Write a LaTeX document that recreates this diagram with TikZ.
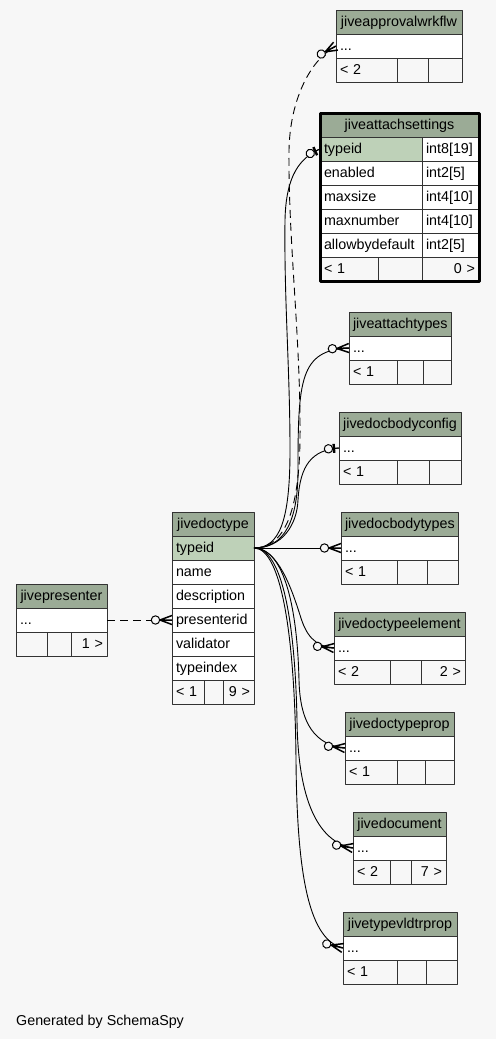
\documentclass[tikz,border=0pt]{standalone}
\usepackage{fontspec}
\setmainfont{Liberation Sans}
\usetikzlibrary{decorations.markings}
\definecolor{bgc}{HTML}{F7F7F7}
\definecolor{hdrc}{HTML}{9BAB96}
\definecolor{pkc}{HTML}{BED1B8}
\definecolor{linec}{HTML}{333333}
\newcommand\tblfont{\fontsize{14.3}{17}\selectfont}

\begin{document}
\begin{tikzpicture}[x=1pt, y=-1pt, line join=round,
    cell/.style={draw=linec, line width=1pt, anchor=north west, inner xsep=4pt, inner ysep=0pt, outer sep=0pt,
      minimum height=24pt, text height=11.5pt, text depth=2.5pt, font=\tblfont, align=left},
    hdr/.style={cell, fill=hdrc, align=center},
    col/.style={cell, fill=white},
    pkcol/.style={cell, fill=pkc},
    ftr/.style={cell, fill=bgc},
    ftrr/.style={ftr, align=right},
    rel/.style={line width=0.9pt},
    implied/.style={rel, dash pattern=on 8pt off 5pt},
    zeromany/.style={postaction={decorate, decoration={markings, mark=at position 0.9995 with {
        \draw[solid, line width=1.5pt] (-12pt,0) -- (0,4.5pt) (-12pt,0) -- (0,0) (-12pt,0) -- (0,-4.5pt);
        \draw[solid, line width=1pt, fill=bgc] (-16.5pt,0) circle (4.2pt);}}}},
    zeroone/.style={postaction={decorate, decoration={markings, mark=at position 0.9995 with {
        \draw[solid, line width=1pt] (-12pt,0) -- (0,0);
        \draw[solid, line width=2.4pt] (-5pt,-4.5pt) -- (-5pt,4.5pt);
        \draw[solid, line width=1pt, fill=bgc] (-10.5pt,0) circle (4.2pt);}}}}]

  \path[use as bounding box, fill=bgc] (0,0) rectangle (496,1039);

  % tables shown collapsed
  \foreach \id/\tname/\x/\y/\w/\da/\db/\fl/\fr in {
      aw/jiveapprovalwrkflw/336/10/126/397/428/{< 2}/{},
      at/jiveattachtypes/349/312/102/397/423/{< 1}/{},
      dbc/jivedocbodyconfig/339/412/122/397/429/{< 1}/{},
      dbt/jivedocbodytypes/341/512/117/397/427/{< 1}/{},
      dte/jivedoctypeelement/334/612/131/390/421/{< 2}/{2 >},
      dtp/jivedoctypeprop/345/712/109/397/425/{< 1}/{},
      doc/jivedocument/353/812/93/390/411/{< 2}/{7 >},
      tvp/jivetypevldtrprop/343/912/114/397/426/{< 1}/{},
      pres/jivepresenter/16/584/91/47/71/{}/{1 >}} {
    \pgfmathsetmacro\wfull{\w-8}
    \pgfmathsetmacro\wleft{\da-\x-8}
    \pgfmathsetmacro\wmid{\db-\da-8}
    \pgfmathsetmacro\wright{\x+\w-\db-8}
    \node[hdr, text width=\wfull pt] (\id-hdr) at (\x,\y) {\tname};
    \node[col, text width=\wfull pt] (\id-row) at (\id-hdr.south west) {...};
    \node[ftr, text width=\wleft pt] (\id-f1) at (\id-row.south west) {\fl};
    \node[ftr, text width=\wmid pt] (\id-f2) at (\id-f1.north east) {};
    \node[ftrr, text width=\wright pt] (\id-f3) at (\id-f2.north east) {\fr};
  }

  % jivedoctype
  \node[hdr, text width=74pt] (dt-hdr) at (172,512) {jivedoctype};
  \node[pkcol, text width=74pt] (dt-typeid) at (dt-hdr.south west) {typeid};
  \foreach \c [remember=\c as \p (initially typeid)] in {name, description, presenterid, validator, typeindex}
    \node[col, text width=74pt] (dt-\c) at (dt-\p.south west) {\c};
  \node[ftr, text width=24pt] (dt-f1) at (dt-typeindex.south west) {< 1};
  \node[ftr, text width=11pt] (dt-f2) at (dt-f1.north east) {};
  \node[ftrr, text width=23pt] (dt-f3) at (dt-f2.north east) {9 >};

  % jiveattachsettings
  \node[hdr, text width=151pt] (as-hdr) at (320,113) {jiveattachsettings};
  \node[pkcol, text width=94pt] (as-typeid) at (as-hdr.south west) {typeid};
  \node[col, text width=49pt] (as-typeid-t) at (as-typeid.north east) {int8[19]};
  \foreach \c/\ty [remember=\c as \p (initially typeid)] in {enabled/int2[5], maxsize/int4[10], maxnumber/int4[10], allowbydefault/int2[5]} {
    \node[col, text width=94pt] (as-\c) at (as-\p.south west) {\c};
    \node[col, text width=49pt] (as-\c-t) at (as-\c.north east) {\ty};
  }
  \node[ftr, text width=50pt] (as-f1) at (as-allowbydefault.south west) {< 1};
  \node[ftr, text width=36pt] (as-f2) at (as-f1.north east) {};
  \node[ftrr, text width=49pt] (as-f3) at (as-f2.north east) {0 >};
  \draw[line width=3pt] (as-hdr.north west) rectangle (as-f3.south east);

  % relationships
  \draw[implied, zeromany] (dt-typeid.east) .. controls (285,548) and (299,510) .. (300,440)
    .. controls (301,340) and (288,240) .. (289,150) .. controls (290,100) and (310,60) .. (aw-row.west);
  \draw[rel, zeroone] (dt-typeid.east) .. controls (280,548) and (290,520) .. (290,450)
    .. controls (290,370) and (284,300) .. (285,220) .. controls (286,175) and (300,158) .. (as-typeid.west);
  \draw[rel, zeromany] (dt-typeid.east) .. controls (285,548) and (298,520) .. (298,470)
    .. controls (298,380) and (300,350) .. (at-row.west);
  \draw[rel, zeroone] (dt-typeid.east) .. controls (282,548) and (297,525) .. (298,500)
    .. controls (300,465) and (312,450) .. (dbc-row.west);
  \draw[rel, zeromany] (dt-typeid.east) -- (dbt-row.west);
  \draw[rel, zeromany] (dt-typeid.east) .. controls (278,548) and (292,590) .. (300,615)
    .. controls (306,635) and (314,646) .. (dte-row.west);
  \draw[rel, zeromany] (dt-typeid.east) .. controls (282,548) and (297,600) .. (299,680)
    .. controls (300,725) and (316,745) .. (dtp-row.west);
  \draw[rel, zeromany] (dt-typeid.east) .. controls (282,548) and (295,620) .. (297,720)
    .. controls (298,800) and (318,842) .. (doc-row.west);
  \draw[rel, zeromany] (dt-typeid.east) .. controls (282,548) and (295,640) .. (296,760)
    .. controls (297,880) and (310,940) .. (tvp-row.west);
  \draw[implied, zeromany] (pres-row.east) -- (dt-presenterid.west);

  \node[anchor=base west, inner sep=0pt, font=\tblfont] (credit) at (16,1025) {Generated by SchemaSpy};
\end{tikzpicture}
\end{document}
